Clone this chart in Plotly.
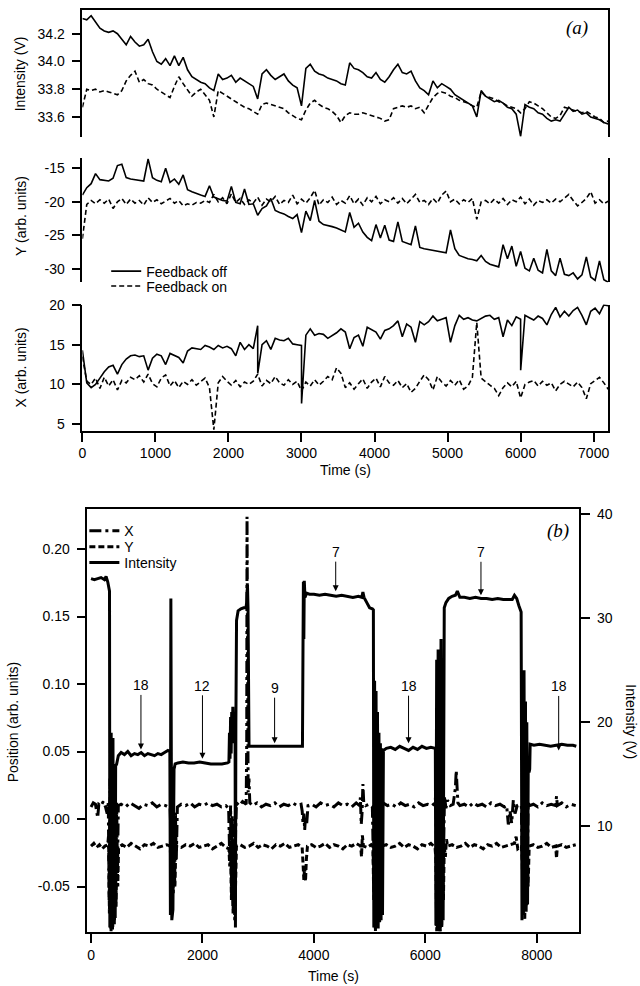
import plotly.graph_objects as go

W, H = 640, 986
FONT = "Liberation Sans, Arial, sans-serif"
SERIF = "Liberation Serif, Times New Roman, serif"

# ---------------- panel (a) data (sampled every 60 s) ----------------
t_a = list(range(0, 7201, 60))

int_off = [34.31, 34.30, 34.33, 34.28, 34.24, 34.22, 34.21, 34.22, 34.20, 34.16,
           34.12, 34.18, 34.14, 34.11, 34.12, 34.16, 34.07, 34.00, 33.98, 34.02,
           33.97, 34.04, 33.97, 34.03, 33.94, 33.89, 33.87, 33.85, 33.84, 33.81,
           33.79, 33.91, 33.87, 33.88, 33.90, 33.85, 33.88, 33.86, 33.84, 33.82,
           33.73, 33.91, 33.94, 33.90, 33.87, 33.89, 33.91, 33.86, 33.83, 33.81,
           33.68, 33.95, 33.98, 33.93, 33.91, 33.90, 33.88, 33.87, 33.86, 33.84,
           33.83, 33.99, 33.95, 33.94, 33.92, 33.89, 33.88, 33.92, 33.87, 33.85,
           33.89, 33.94, 33.98, 33.92, 33.91, 33.93, 33.86, 33.81, 33.79, 33.76,
           33.86, 33.81, 33.84, 33.82, 33.80, 33.76, 33.74, 33.72, 33.70, 33.68,
           33.60, 33.79, 33.75, 33.73, 33.71, 33.72, 33.70, 33.67, 33.66, 33.62,
           33.46, 33.69, 33.67, 33.66, 33.63, 33.62, 33.59, 33.57, 33.58, 33.57,
           33.62, 33.67, 33.64, 33.65, 33.62, 33.63, 33.60, 33.59, 33.58, 33.56,
           33.55]
int_on = [33.67, 33.80, 33.79, 33.80, 33.78, 33.79, 33.78, 33.77, 33.76, 33.79,
          33.86, 33.90, 33.93, 33.85, 33.87, 33.84, 33.83, 33.80, 33.78, 33.76,
          33.74, 33.82, 33.89, 33.84, 33.79, 33.75, 33.78, 33.80, 33.76, 33.72,
          33.60, 33.79, 33.77, 33.75, 33.73, 33.71, 33.69, 33.67, 33.66, 33.64,
          33.62, 33.69, 33.70, 33.69, 33.68, 33.67, 33.66, 33.63, 33.61, 33.59,
          33.58, 33.65, 33.70, 33.72, 33.69, 33.67, 33.66, 33.64, 33.61, 33.56,
          33.61, 33.63, 33.62, 33.62, 33.63, 33.62, 33.61, 33.60, 33.59, 33.57,
          33.58, 33.66, 33.67, 33.68, 33.67, 33.68, 33.66, 33.67, 33.63, 33.68,
          33.74, 33.77, 33.78, 33.77, 33.75, 33.74, 33.72, 33.71, 33.70, 33.68,
          33.67, 33.78, 33.75, 33.74, 33.73, 33.71, 33.70, 33.68, 33.67, 33.66,
          33.63, 33.66, 33.71, 33.70, 33.68, 33.66, 33.63, 33.60, 33.59, 33.61,
          33.67, 33.66, 33.65, 33.64, 33.63, 33.64, 33.62, 33.60, 33.59, 33.56,
          33.57]
y_off = [-19.0, -17.9, -17.3, -15.8, -16.7, -16.8, -16.9, -16.5, -14.6, -14.4,
         -16.4, -16.6, -16.7, -16.8, -16.9, -13.6, -16.4, -16.8, -17.0, -15.0,
         -17.1, -16.6, -17.4, -16.0, -18.2, -18.5, -18.8, -19.0, -19.2, -17.6,
         -19.3, -19.6, -19.8, -19.9, -17.7, -20.1, -20.3, -18.1, -20.4, -20.3,
         -22.0, -21.0, -20.6, -19.5, -21.3, -21.6, -21.8, -22.2, -22.5, -21.9,
         -24.6, -21.4, -22.8, -19.8, -22.9, -23.4, -23.5, -23.7, -23.9, -24.2,
         -24.5, -21.6, -23.8, -23.2, -24.5, -25.3, -25.8, -23.4, -25.4, -23.5,
         -25.7, -25.9, -23.0, -25.9, -26.2, -26.4, -23.6, -26.8, -27.0, -27.1,
         -27.2, -27.4, -27.5, -27.6, -24.2, -27.0, -28.0, -28.3, -28.5, -28.6,
         -28.8, -28.0, -28.9, -29.3, -29.5, -29.7, -26.4, -28.5, -26.6, -29.6,
         -27.4, -29.9, -30.3, -28.4, -30.2, -30.6, -27.1, -30.3, -31.0, -28.4,
         -30.8, -31.0, -30.6, -31.5, -30.9, -28.2, -31.2, -31.7, -28.8, -31.6,
         -32.0]
y_on = [-25.5, -20.4, -19.8, -20.3, -19.7, -20.2, -19.6, -21.0, -20.0, -19.5,
        -20.4, -19.6, -20.2, -19.8, -20.5, -19.4, -20.1, -19.7, -20.3, -19.9,
        -19.5, -20.2, -19.8, -20.6, -20.3, -20.5, -20.1, -20.2, -19.8, -20.1,
        -18.9, -20.0, -19.4, -20.3, -18.8, -20.1, -19.5, -20.4, -19.7, -20.2,
        -19.3, -20.5, -19.6, -20.0, -19.2, -20.4, -19.8, -20.1, -19.0, -20.3,
        -19.6, -20.2, -19.4, -18.3, -20.5, -19.7, -20.1, -19.3, -20.4, -19.8,
        -20.2, -19.1, -20.3, -19.6, -20.5, -19.4, -20.0, -19.2, -20.3, -19.7,
        -20.0, -19.4, -20.2, -19.5, -20.3, -19.6, -18.9, -20.1, -19.8, -20.4,
        -19.5, -20.2, -19.0, -18.4, -20.0, -19.6, -20.3, -19.7, -20.1, -19.5,
        -22.6, -20.0, -19.8, -20.3, -19.6, -20.2, -19.5, -20.4, -19.7, -20.0,
        -19.3, -20.3, -19.6, -20.5, -19.8, -20.1, -19.7, -20.2, -19.6, -20.0,
        -19.4, -18.9, -19.8, -20.6, -20.1, -19.5, -18.5, -20.2, -19.7, -20.3,
        -19.9]
x_off = [14.3, 10.2, 9.6, 10.0, 10.8, 11.6, 12.2, 12.4, 11.3, 12.5,
         13.2, 13.6, 13.7, 13.5, 13.6, 11.8, 13.3, 13.8, 13.6, 12.5,
         13.9, 13.7, 13.4, 12.7, 14.2, 14.6, 14.5, 14.4, 14.9, 14.7,
         14.4, 14.9, 14.6, 14.8, 14.5, 13.6, 15.3, 14.4, 15.0, 14.5,
         17.4, 15.0, 15.5, 14.4, 15.8, 15.6, 15.5, 15.8, 15.1, 15.0,
         14.9, 16.2, 17.0, 16.2, 16.4, 16.3, 15.8, 16.1, 16.5, 17.0,
         16.6, 14.5, 15.9, 16.2, 14.8, 17.2, 16.9, 16.6, 15.7, 16.8,
         17.0, 17.4, 18.0, 16.0, 17.6, 17.2, 15.3, 17.9, 17.5, 17.9,
         18.6, 18.0, 18.2, 18.4, 15.3, 17.4, 18.7, 18.2, 18.4, 18.1,
         18.0, 18.3, 18.6, 18.7, 18.2, 18.4, 16.0, 18.1, 17.4, 18.5,
         18.2, 18.7, 18.4, 18.1, 18.6, 18.3, 17.5, 18.8, 19.7, 18.5,
         19.2, 18.6, 19.3, 19.7, 18.7, 17.5, 19.2, 19.6, 18.9, 20.0,
         19.9]
x_off_spike_t = [2401, 3001, 6001]
x_off_spike_v = [11.4, 7.6, 11.8]
x_on = [13.5, 10.4, 10.0, 10.8, 9.5, 10.9, 9.8, 10.6, 9.3, 10.5,
        10.2, 10.9, 10.6, 11.1, 10.3, 11.3, 10.1, 9.7, 10.8, 11.2,
        9.8, 10.5, 9.6, 10.4, 10.0, 10.6, 9.9, 10.3, 10.8, 9.6,
        4.3, 10.2, 11.0, 10.4, 9.9, 10.5, 9.7, 10.3, 10.0, 10.4,
        11.3, 9.8, 10.5, 10.1, 11.0, 10.2, 9.9, 10.6, 10.0, 10.4,
        9.2, 10.3, 9.8, 10.6, 9.9, 10.4, 11.0, 10.6, 12.1, 11.4,
        9.6, 10.2, 9.4, 10.1, 10.7, 9.5, 10.3, 10.8, 9.7, 11.0,
        10.2, 9.9, 10.5, 9.6, 10.1, 9.0, 9.5, 10.4, 11.2, 10.6,
        9.3, 11.0, 10.3, 9.8, 10.5, 9.9, 10.6, 9.4, 9.8, 10.9,
        17.8, 10.8, 10.3, 9.9, 9.5, 8.6, 9.6, 10.2, 9.7, 10.4,
        8.3, 10.0, 10.3, 10.5, 9.8, 10.4, 9.9, 10.2, 9.2, 10.0,
        10.4, 10.1, 9.7, 10.3, 9.6, 8.2, 10.1, 10.5, 10.9, 10.2,
        9.4]

# ---------------- panel (b) data ----------------
b_int_t = [0, 60, 120, 180, 240, 270, 300, 320, 332,
           338, 346, 354, 362, 370, 378, 386, 394, 402, 410, 418, 426, 434, 442,
           460, 490, 540, 600, 660, 720, 780, 840, 900, 960, 1020, 1080, 1140, 1200, 1260, 1320, 1380, 1415,
           1425, 1433, 1440, 1450, 1470, 1490, 1510, 1560, 1650, 1750, 1850, 1950, 2050, 2150, 2250, 2350, 2450, 2475,
           2485, 2495, 2505, 2515, 2525, 2535, 2545, 2555, 2565, 2575, 2585, 2592, 2600, 2612, 2640, 2690, 2740, 2780, 2795, 2808, 2818, 2828, 2836,
           2900, 3000, 3100, 3200, 3300, 3400, 3500, 3600, 3700, 3795,
           3805, 3812, 3820, 3828, 3840, 3870, 3920, 4000, 4100, 4200, 4300, 4400, 4500, 4600, 4700, 4800, 4860, 4880, 4900, 4950, 5000, 5050, 5068,
           5076, 5090, 5102, 5116, 5128, 5142, 5154, 5168, 5180, 5194, 5206, 5220, 5232, 5248,
           5300, 5380, 5460, 5540, 5620, 5700, 5780, 5860, 5940, 6020, 6100, 6180,
           6190, 6204, 6216, 6230, 6242, 6256, 6268, 6282, 6294, 6308, 6320, 6332, 6340,
           6370, 6420, 6480, 6540, 6575, 6620, 6700, 6800, 6900, 7000, 7100, 7200, 7300, 7400, 7500, 7560, 7600, 7640, 7680, 7720,
           7735, 7748, 7760, 7772, 7785, 7798, 7810, 7822, 7835, 7848, 7862, 7874, 7882,
           7950, 8050, 8150, 8250, 8350, 8450, 8550, 8650, 8710]
b_int = [33.8, 33.7, 33.8, 33.9, 33.7, 34.0, 33.5, 33.1, 32.6,
         0.3, 16.5, 0.2, 19.0, 0.5, 17.0, 0.1, 18.5, 1.0, 15.5, 0.6, 16.0, 1.2, 15.8,
         16.0, 16.8, 17.1, 16.9, 17.2, 16.8, 17.0, 16.9, 17.1, 16.8, 17.0, 16.9, 16.8, 17.0, 16.9, 17.1, 17.3, 17.2,
         1.5, 31.9, 1.2, 1.0, 2.0, 15.5, 16.0, 16.1, 16.2, 16.1, 16.1, 16.2, 16.1, 16.0, 16.0, 16.0, 16.1, 16.2,
         19.0, 16.5, 20.5, 17.0, 21.0, 18.0, 21.5, 19.0, 20.8, 19.5, 21.0, 0.3, 20.0, 29.8, 30.7, 30.9, 31.0, 31.0, 31.5, 33.2, 31.0, 24.0, 17.7,
         17.7, 17.7, 17.7, 17.7, 17.7, 17.7, 17.7, 17.7, 17.7, 17.7,
         27.5, 33.5, 28.0, 33.6, 32.0, 32.4, 32.3, 32.3, 32.2, 32.3, 32.2, 32.1, 32.2, 32.1, 32.0, 32.1, 32.0, 32.5, 32.0, 31.5, 31.0, 30.9, 30.8,
         0.3, 24.0, 0.2, 23.0, 0.5, 21.0, 0.2, 19.0, 0.8, 18.0, 1.0, 17.5, 1.5, 17.3,
         17.5, 17.6, 17.4, 17.7, 17.5, 17.3, 17.6, 17.4, 17.7, 17.5, 17.6, 17.5,
         0.5, 26.0, 0.2, 27.0, 0.5, 25.0, 0.2, 28.0, 0.5, 26.0, 1.0, 30.8, 31.0,
         31.5, 31.9, 32.1, 32.2, 32.6, 32.0, 32.0, 31.9, 32.0, 31.9, 31.9, 31.8, 31.9, 31.8, 31.8, 31.8, 32.2, 31.9, 31.2, 30.6,
         1.0, 24.0, 1.5, 25.0, 2.0, 22.0, 1.8, 20.0, 2.5, 16.0, 15.2, 15.5, 17.9,
         17.8, 17.9, 17.8, 17.7, 17.8, 17.9, 17.8, 17.8, 17.7]

b_x_t = [0, 40, 80, 120, 140, 180, 220, 260, 290, 310,
         325, 340, 355, 370, 385, 400, 415, 430, 445, 460, 475, 490,
         540, 620, 700, 780, 860, 940, 1020, 1100, 1180, 1260, 1340, 1420,
         1440, 1455, 1470, 1485, 1500, 1515, 1530, 1550,
         1620, 1700, 1780, 1860, 1940, 2020, 2100, 2180, 2260, 2340, 2420, 2470,
         2490, 2505, 2520, 2535, 2550, 2565, 2580, 2595, 2610, 2660, 2720, 2785,
         2795, 2800, 2806, 2812, 2820, 2835, 2850,
         2900, 2980, 3060, 3140, 3220, 3300, 3380, 3460, 3540, 3620, 3700, 3770,
         3790, 3805, 3820, 3835, 3850, 3870, 3895,
         3960, 4040, 4120, 4200, 4280, 4360, 4440, 4520, 4600, 4680, 4760, 4820,
         4835, 4850, 4865, 4880, 4895, 4930, 4990, 5050,
         5075, 5090, 5105, 5120, 5135, 5150, 5165, 5180, 5195, 5210, 5240,
         5320, 5400, 5480, 5560, 5640, 5720, 5800, 5880, 5960, 6040, 6120, 6175,
         6190, 6205, 6220, 6235, 6250, 6265, 6280, 6295, 6310, 6325, 6345, 6370, 6400,
         6450, 6500, 6540, 6555, 6570, 6585, 6620,
         6700, 6780, 6860, 6940, 7020, 7100, 7180, 7260, 7340, 7420, 7460,
         7490, 7520, 7550, 7580, 7610, 7650, 7700, 7725,
         7740, 7755, 7770, 7785, 7800, 7815, 7830, 7845, 7870,
         7940, 8020, 8100, 8180, 8260, 8340, 8355, 8370, 8450, 8530, 8610, 8700]
b_x = [0.009, 0.012, 0.011, 0.001, 0.011, 0.010, 0.013, 0.009, 0.004, 0.012,
       -0.06, 0.03, -0.075, 0.02, -0.08, 0.025, -0.07, 0.015, -0.06, 0.012, -0.04, 0.010,
       0.011, 0.009, 0.012, 0.010, 0.008, 0.011, 0.010, 0.012, 0.009, 0.011, 0.010, 0.008,
       -0.02, 0.005, -0.045, 0.0, -0.05, 0.006, -0.03, 0.009,
       0.011, 0.010, 0.012, 0.009, 0.011, 0.010, 0.012, 0.010, 0.011, 0.009, 0.010, 0.008,
       -0.03, 0.010, -0.05, 0.002, -0.065, 0.0, -0.07, -0.01, 0.012, 0.010, 0.013, 0.011,
       0.06, 0.224, 0.12, 0.05, 0.02, 0.03, 0.012,
       0.010, 0.012, 0.009, 0.011, 0.010, 0.012, 0.009, 0.011, 0.010, 0.012, 0.010, 0.011,
       0.006, -0.003, 0.004, -0.008, 0.002, -0.004, 0.010,
       0.011, 0.009, 0.012, 0.010, 0.011, 0.009, 0.012, 0.010, 0.011, 0.009, 0.012, 0.010,
       0.016, -0.004, 0.005, 0.026, 0.012, 0.010, 0.011, 0.009,
       -0.05, 0.02, -0.08, 0.015, -0.07, 0.01, -0.06, 0.012, -0.04, 0.010, 0.012,
       0.010, 0.011, 0.009, 0.012, 0.010, 0.011, 0.009, 0.012, 0.010, 0.011, 0.010, 0.012,
       0.02, -0.06, 0.015, -0.08, 0.01, -0.083, 0.02, -0.07, 0.01, -0.03, 0.017, 0.008, 0.014,
       0.010, 0.011, 0.023, 0.036, 0.022, 0.012, 0.010,
       0.011, 0.009, 0.012, 0.010, 0.011, 0.009, 0.012, 0.010, 0.011, 0.009, 0.010,
       -0.004, 0.006, -0.003, 0.014, 0.004, 0.010, 0.011, 0.009,
       -0.03, 0.01, -0.06, 0.005, -0.065, 0.01, -0.05, 0.012, 0.010,
       0.011, 0.009, 0.012, 0.010, 0.011, 0.010, 0.017, 0.010, 0.012, 0.009, 0.011, 0.010]

b_y_t = [0, 50, 100, 150, 200, 250, 300,
         315, 330, 345, 360, 375, 390, 405, 420, 435, 450, 465, 480, 495,
         560, 640, 720, 800, 880, 960, 1040, 1120, 1200, 1280, 1360, 1420,
         1445, 1460, 1475, 1490, 1505, 1520, 1540,
         1620, 1700, 1780, 1860, 1940, 2020, 2100, 2180, 2260, 2340, 2420, 2475,
         2490, 2505, 2520, 2535, 2550, 2565, 2580, 2595, 2610,
         2680, 2760, 2840, 2920, 3000, 3080, 3160, 3240, 3320, 3400, 3480, 3560, 3640, 3720, 3790,
         3805, 3820, 3835, 3850, 3865, 3885,
         3960, 4040, 4120, 4200, 4280, 4360, 4440, 4520, 4600, 4680, 4760, 4840,
         4855, 4870, 4890, 4960, 5030, 5060,
         5075, 5090, 5105, 5120, 5135, 5150, 5165, 5180, 5195, 5215,
         5300, 5380, 5460, 5540, 5620, 5700, 5780, 5860, 5940, 6020, 6100, 6175,
         6190, 6205, 6220, 6235, 6250, 6265, 6280, 6295, 6310, 6325, 6340, 6360, 6380, 6400,
         6480, 6560, 6640, 6720, 6800, 6880, 6960, 7040, 7120, 7200, 7280, 7360, 7440, 7520, 7600, 7630, 7660, 7725,
         7740, 7755, 7770, 7785, 7800, 7815, 7830, 7845, 7865,
         7940, 8020, 8100, 8180, 8260, 8340, 8355, 8370, 8450, 8530, 8610, 8700]
b_y = [-0.020, -0.018, -0.021, -0.019, -0.022, -0.020, -0.019,
       -0.012, -0.07, -0.02, -0.083, -0.015, -0.08, -0.02, -0.075, -0.025, -0.065, -0.02, -0.05, -0.021,
       -0.019, -0.021, -0.018, -0.020, -0.022, -0.019, -0.020, -0.018, -0.021, -0.020, -0.019, -0.020,
       -0.04, -0.025, -0.055, -0.03, -0.05, -0.025, -0.020,
       -0.021, -0.019, -0.020, -0.018, -0.021, -0.020, -0.019, -0.022, -0.020, -0.018, -0.021, -0.022,
       -0.035, -0.02, -0.06, -0.025, -0.07, -0.03, -0.075, -0.03, -0.02,
       -0.019, -0.021, -0.020, -0.018, -0.021, -0.019, -0.020, -0.022, -0.019, -0.020, -0.018, -0.021, -0.020, -0.019, -0.021,
       -0.03, -0.045, -0.035, -0.046, -0.03, -0.020,
       -0.019, -0.021, -0.020, -0.018, -0.021, -0.019, -0.020, -0.022, -0.019, -0.020, -0.018, -0.020,
       -0.028, -0.012, -0.020, -0.021, -0.019, -0.020,
       -0.06, -0.02, -0.083, -0.02, -0.08, -0.025, -0.07, -0.02, -0.05, -0.020,
       -0.019, -0.021, -0.020, -0.018, -0.021, -0.019, -0.020, -0.022, -0.019, -0.020, -0.018, -0.021,
       -0.03, -0.083, -0.02, -0.083, -0.025, -0.083, -0.02, -0.08, -0.03, -0.06, -0.02, -0.028, -0.015, -0.020,
       -0.019, -0.021, -0.020, -0.018, -0.021, -0.019, -0.020, -0.022, -0.019, -0.020, -0.018, -0.021, -0.020, -0.019, -0.018, -0.013, -0.022, -0.020,
       -0.03, -0.07, -0.025, -0.075, -0.02, -0.065, -0.025, -0.05, -0.020,
       -0.019, -0.021, -0.020, -0.018, -0.021, -0.020, -0.029, -0.020, -0.019, -0.021, -0.020, -0.019]

# arrow labels (text, time, intensity at arrow tip, label offset px)
arrow_text = ["18", "12", "9", "7", "18", "7", "18"]
arrow_t = [896, 2000, 3295, 4392, 5699, 6999, 8394]
arrow_tip = [17.4, 16.5, 18.0, 32.6, 18.0, 32.2, 17.3]
arrow_dy = [-64, -73, -55, -39, -57, -43, -64]

# ---------------- build figure ----------------
fig = go.Figure()

solid_a = dict(color="black", width=1.6)
dash_a = dict(color="black", width=1.6, dash="5px,3px")

fig.add_trace(go.Scatter(x=t_a, y=int_off, mode="lines", line=solid_a, name="Feedback off",
                         xaxis="x", yaxis="y", legend="legend", showlegend=True))
fig.add_trace(go.Scatter(x=t_a, y=int_on, mode="lines", line=dash_a, name="Feedback on",
                         xaxis="x", yaxis="y", legend="legend2", showlegend=True))
fig.add_trace(go.Scatter(x=t_a, y=y_off, mode="lines", line=solid_a, showlegend=False,
                         xaxis="x2", yaxis="y2"))
fig.add_trace(go.Scatter(x=t_a, y=y_on, mode="lines", line=dash_a, showlegend=False,
                         xaxis="x2", yaxis="y2"))
xo = sorted(zip(t_a + x_off_spike_t, x_off + x_off_spike_v), key=lambda p: p[0])
fig.add_trace(go.Scatter(x=[p[0] for p in xo], y=[p[1] for p in xo], mode="lines", line=solid_a,
                         showlegend=False, xaxis="x3", yaxis="y3"))
fig.add_trace(go.Scatter(x=t_a, y=x_on, mode="lines", line=dash_a, showlegend=False,
                         xaxis="x3", yaxis="y3"))

fig.add_trace(go.Scatter(x=b_x_t, y=b_x, mode="lines", name="X",
                         line=dict(color="black", width=3, dash="12px,4px,3px,4px"),
                         xaxis="x4", yaxis="y4", legend="legend3"))
fig.add_trace(go.Scatter(x=b_y_t, y=b_y, mode="lines", name="Y",
                         line=dict(color="black", width=3, dash="6px,3px"),
                         xaxis="x4", yaxis="y4", legend="legend4"))
fig.add_trace(go.Scatter(x=b_int_t, y=b_int, mode="lines", name="Intensity",
                         line=dict(color="black", width=3),
                         xaxis="x4", yaxis="y5", legend="legend5"))

tickfont = dict(family=FONT, size=14, color="black")
common_ax = dict(showgrid=False, zeroline=False, linecolor="black", linewidth=1.5,
                 tickcolor="black", tickwidth=1.5, ticklen=9, tickfont=tickfont)

xa_dom = [79 / W, 609 / W]
xb_dom = [84 / W, 580 / W]


def ydom(top_px, bot_px):
    return [1 - bot_px / H, 1 - top_px / H]


def fmt(v, d):
    return f"{v:.{d}f}"


int_ticks = [33.6, 33.8, 34.0, 34.2]
y_ticks = [-30, -25, -20, -15]
x_ticks = [5, 10, 15, 20]
time_a_ticks = [0, 1000, 2000, 3000, 4000, 5000, 6000, 7000]
pos_ticks = [-0.05, 0.0, 0.05, 0.10, 0.15, 0.20]
time_b_ticks = [0, 2000, 4000, 6000, 8000]
intb_ticks = [10, 20, 30, 40]

fig.update_layout(
    width=W, height=H, margin=dict(l=0, r=0, t=0, b=0),
    paper_bgcolor="white", plot_bgcolor="white",
    font=dict(family=FONT, size=14, color="black"),
    xaxis=dict(common_ax, domain=xa_dom, anchor="y", range=[0, 7200], side="top",
               showline=True, ticks="", showticklabels=False),
    yaxis=dict(common_ax, domain=ydom(2, 130), anchor="x", range=[33.457, 34.371],
               showline=True, mirror=True, ticks="outside", tickvals=int_ticks,
               ticktext=[fmt(v, 1) for v in int_ticks], ticklabelstandoff=4),
    xaxis2=dict(common_ax, domain=xa_dom, anchor="y2", range=[0, 7200], showline=False,
                ticks="", showticklabels=False),
    yaxis2=dict(common_ax, domain=ydom(151.7, 276.7), anchor="x2", range=[-31.98, -13.52],
                showline=True, mirror=True, ticks="outside", tickvals=y_ticks,
                ticktext=[str(v) for v in y_ticks], ticklabelstandoff=4),
    xaxis3=dict(common_ax, domain=xa_dom, anchor="y3", range=[0, 7200], showline=True,
                ticks="outside", tickvals=time_a_ticks, ticktext=[str(v) for v in time_a_ticks]),
    yaxis3=dict(common_ax, domain=ydom(299.3, 426.7), anchor="x3", range=[4.167, 20.05],
                showline=True, mirror=True, ticks="outside", tickvals=x_ticks,
                ticktext=[str(v) for v in x_ticks], ticklabelstandoff=4),
    xaxis4=dict(common_ax, domain=xb_dom, anchor="y4", range=[-66, 8767], showline=True,
                mirror=True, ticks="outside", tickvals=time_b_ticks,
                ticktext=[str(v) for v in time_b_ticks]),
    yaxis4=dict(common_ax, domain=ydom(506, 933), anchor="x4", range=[-0.084, 0.2294],
                showline=True, ticks="outside", tickvals=pos_ticks,
                ticktext=[fmt(v, 2) for v in pos_ticks], ticklabelstandoff=4),
    yaxis5=dict(common_ax, overlaying="y4", anchor="x4", side="right", range=[-0.18, 40.45],
                showline=True, ticks="outside", tickvals=intb_ticks,
                ticktext=[str(v) for v in intb_ticks], ticklabelstandoff=4),
)

leg_common = dict(xanchor="left", yanchor="middle", bgcolor="rgba(0,0,0,0)", borderwidth=0,
                  font=dict(family=FONT, size=14, color="black"), itemwidth=30,
                  tracegroupgap=0)
fig.update_layout(
    legend=dict(leg_common, x=103 / W, y=1 - 266 / H),
    legend2=dict(leg_common, x=103 / W, y=1 - 281 / H),
    legend3=dict(leg_common, x=81 / W, y=1 - 528 / H),
    legend4=dict(leg_common, x=81 / W, y=1 - 544 / H),
    legend5=dict(leg_common, x=81 / W, y=1 - 560 / H),
)

ann = []


def paper_text(text, px, py, angle=0, size=14, family=FONT):
    ann.append(dict(text=text, x=px / W, y=1 - py / H, xref="paper", yref="paper",
                    xanchor="center", yanchor="middle", showarrow=False, textangle=angle,
                    font=dict(family=family, size=size, color="black")))


paper_text("Intensity (V)", 17, 66, -90)
paper_text("Y (arb. units)", 17, 210, -90)
paper_text("X (arb. units)", 17, 363, -90)
paper_text("Time (s)", 344, 466)
paper_text("<i>(a)</i>", 578, 20, 0, 19, SERIF)
paper_text("Position (arb. units)", 10, 720, -90)
paper_text("Intensity (V)", 632, 720, 90)
paper_text("Time (s)", 332, 977)
paper_text("<i>(b)</i>", 558, 528, 0, 19, SERIF)

for txt, t, tip, dy in zip(arrow_text, arrow_t, arrow_tip, arrow_dy):
    ann.append(dict(text=txt, x=t, y=tip, xref="x4", yref="y5", ax=0, ay=dy,
                    showarrow=True, arrowhead=2, arrowsize=1.2, arrowwidth=1,
                    arrowcolor="black", standoff=0,
                    font=dict(family=FONT, size=14, color="black")))

fig.update_layout(annotations=ann)

fig.write_html("out.html", config={"displayModeBar": False},
               post_script="document.body.style.margin='0px';document.body.style.overflow='hidden';")
